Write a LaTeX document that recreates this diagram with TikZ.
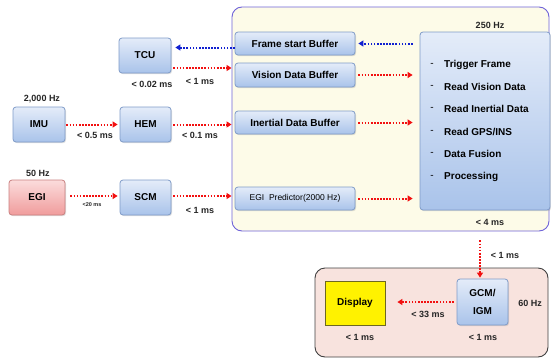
\documentclass[tikz,border=0pt]{standalone}
\usepackage{fontspec}
\setmainfont{Liberation Sans}
\usetikzlibrary{arrows.meta,shadows}
\definecolor{bxtop}{HTML}{E4ECF9}
\definecolor{bxbot}{HTML}{A9C3EA}
\definecolor{bxline}{HTML}{7F9BC8}
\definecolor{pktop}{HTML}{FBDCDC}
\definecolor{pkbot}{HTML}{F09C9C}
\definecolor{pkline}{HTML}{C98080}
\definecolor{contfill}{HTML}{FDFBE8}
\definecolor{contline}{HTML}{6F63D8}
\definecolor{botfill}{HTML}{F8E3DE}
\definecolor{botline}{HTML}{404040}
\definecolor{arrred}{HTML}{F21010}
\definecolor{arrblue}{HTML}{1020D0}
\tikzset{
  x=1pt, y=-1pt,
  bbox/.style={draw=bxline, line width=0.8pt, rounded corners=3pt, top color=bxtop, bottom color=bxbot,
    font=\fontsize{10}{12}\selectfont\bfseries, align=center, inner sep=1pt,
    drop shadow={opacity=0.25, shadow xshift=1pt, shadow yshift=-1.2pt}},
  pbox/.style={bbox, draw=pkline, top color=pktop, bottom color=pkbot},
  lbl/.style={font=\fontsize{9}{10}\selectfont\bfseries, text=black!85, inner sep=0pt},
  item/.style={font=\fontsize{10}{12}\selectfont\bfseries, inner sep=0pt, anchor=west},
  dsh/.style={font=\fontsize{10}{12}\selectfont, inner sep=0pt},
  redarr/.style={draw=arrred, line width=2pt, dash pattern=on 1.7pt off 1.4pt,
    -{Triangle[length=5pt,width=6pt,fill=arrred]}},
  bluearr/.style={redarr, draw=arrblue, -{Triangle[length=5pt,width=6pt,fill=arrblue]}},
}
\begin{document}
\begin{tikzpicture}
\useasboundingbox (0,0) rectangle (551,359);
% containers
\node[draw=contline, line width=0.9pt, fill=contfill, rounded corners=10pt,
  minimum width=317pt, minimum height=224pt, inner sep=0pt] (cont) at (390.5,119) {};
\node[draw=botline, line width=0.9pt, fill=botfill, rounded corners=10pt,
  minimum width=233pt, minimum height=89pt, inner sep=0pt] (bot) at (431.5,312.5) {};
% left boxes
\node[bbox, minimum width=52pt, minimum height=35pt] (tcu) at (145,55.5) {TCU};
\node[bbox, minimum width=52pt, minimum height=35pt] (imu) at (39,124.5) {IMU};
\node[bbox, minimum width=51pt, minimum height=35pt] (hem) at (145.5,124.5) {HEM};
\node[pbox, minimum width=56pt, minimum height=35pt] (egi) at (37,197.5) {EGI};
\node[bbox, minimum width=51pt, minimum height=35pt] (scm) at (145.5,197.5) {SCM};
% buffers
\node[bbox, minimum width=120pt, minimum height=23pt] (fsb) at (295,43.5) {Frame start Buffer};
\node[bbox, minimum width=120pt, minimum height=24pt] (vdb) at (295,75) {Vision Data Buffer};
\node[bbox, minimum width=120pt, minimum height=23pt] (idb) at (295,122.5) {Inertial Data Buffer};
\node[bbox, minimum width=120pt, minimum height=23pt, font=\fontsize{8.5}{10}\selectfont] (egp) at (295,198.5) {EGI~ Predictor(2000 Hz)};
% processing
\node[bbox, minimum width=130pt, minimum height=178pt] (proc) at (485,121) {};
\foreach \t/\yy [count=\i] in {{Trigger Frame}/65, {Read Vision Data}/87, {Read Inertial Data}/109, {Read GPS/INS}/132, {Data Fusion}/154, {Processing}/177}{
  \node[dsh] (d\i) at (432,\yy) {-};
  \node[item] (it\i) at (444,\yy) {\t};
}
% bottom
\node[draw=olive!70!black, line width=0.8pt, fill=yellow, font=\fontsize{10}{12}\selectfont\bfseries,
  minimum width=60pt, minimum height=44pt, drop shadow={opacity=0.25, shadow xshift=1pt, shadow yshift=-1.2pt}] (disp) at (355,303) {Display};
\node[bbox, minimum width=51pt, minimum height=46pt] (gcm) at (482.5,302) {GCM/\\[6pt]IGM};
% labels
\node[lbl] (l250) at (490,25) {250 Hz};
\node[lbl] (l4) at (490,222) {< 4 ms};
\node[lbl] (l002) at (152,84) {< 0.02 ms};
\node[lbl] (l1a) at (200,81) {< 1 ms};
\node[lbl] (l2000) at (42,99) {2,000 Hz};
\node[lbl] (l05) at (95,135) {< 0.5 ms};
\node[lbl] (l01) at (200,135) {< 0.1 ms};
\node[lbl] (l50) at (38,173) {50 Hz};
\node[lbl, font=\fontsize{5.5}{6}\selectfont\bfseries] (l20) at (92,205) {<20 ms};
\node[lbl] (l1b) at (200,210) {< 1 ms};
\node[lbl] (l1c) at (505,255) {< 1 ms};
\node[lbl] (l60) at (530,303) {60 Hz};
\node[lbl] (l33) at (428,314) {< 33 ms};
\node[lbl] (l1d) at (360,337) {< 1 ms};
\node[lbl] (l1e) at (483,337) {< 1 ms};
% arrows
\draw[bluearr, shorten <=7pt, shorten >=3pt] (proc.west |- fsb.east) -- (fsb.east);
\draw[bluearr, shorten >=4pt] ([yshift=-4pt]fsb.west) -- ([yshift=-4pt]fsb.west -| tcu.east);
\draw[redarr, shorten <=2pt] ([yshift=-12.5pt]tcu.east) coordinate (ta) -- (ta -| cont.west);
\draw[redarr, shorten <=1pt, shorten >=2pt] (imu.east) -- (hem.west);
\draw[redarr, shorten <=2pt] (hem.east) -- (hem.east -| cont.west);
\draw[redarr, shorten <=5pt, shorten >=2pt] ([yshift=1.5pt]egi.east) -- ([yshift=1.5pt]scm.west);
\draw[redarr, shorten <=2pt] ([yshift=1.5pt]scm.east) coordinate (sa) -- (sa -| cont.west);
\draw[redarr, shorten <=3pt, shorten >=7pt] (vdb.east) -- (vdb.east -| proc.west);
\draw[redarr, shorten <=3pt, shorten >=7pt] (idb.east) -- (idb.east -| proc.west);
\draw[redarr, shorten <=3pt, shorten >=7pt] (egp.east) -- (egp.east -| proc.west);
\draw[redarr, shorten <=9pt, shorten >=1pt] ([xshift=-2.5pt]gcm.north |- cont.south) -- ([xshift=-2.5pt]gcm.north);
\draw[redarr, shorten <=3pt, shorten >=12pt] (gcm.west) -- (gcm.west -| disp.east);
\end{tikzpicture}
\end{document}
